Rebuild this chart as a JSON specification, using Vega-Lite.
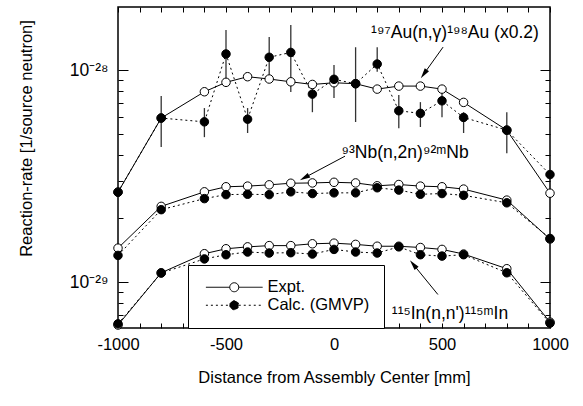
{
  "$schema": "https://vega.github.io/schema/vega-lite/v6.json",
  "width": 432,
  "height": 321,
  "autosize": "none",
  "padding": {"left": 118, "top": 7, "right": 33, "bottom": 78},
  "background": "white",
  "config": {
    "font": "Liberation Sans",
    "view": {"stroke": "black", "strokeWidth": 1.5},
    "axis": {"domain": false, "grid": false, "tickColor": "black", "labelColor": "black", "titleColor": "black", "titleFontWeight": "normal", "labelFont": "Liberation Sans", "titleFont": "Liberation Sans", "tickWidth": 1, "labelOverlap": false, "labelFlush": false, "labelBound": false}
  },
  "datasets": {
    "rates": [
      {"r": "Au", "x": -1000, "e": 2.66e-29, "c": 2.66e-29},
      {"r": "Au", "x": -800, "e": 5.94e-29, "c": 5.94e-29, "lo": 4.34e-29, "hi": 7.54e-29},
      {"r": "Au", "x": -600, "e": 7.9e-29, "c": 5.7e-29, "lo": 4.83e-29, "hi": 6.62e-29},
      {"r": "Au", "x": -500, "e": 8.75e-29, "c": 1.19e-28, "lo": 8.78e-29, "hi": 1.545e-28},
      {"r": "Au", "x": -400, "e": 9.3e-29, "c": 5.87e-29, "lo": 5.05e-29, "hi": 6.62e-29},
      {"r": "Au", "x": -300, "e": 9.07e-29, "c": 1.148e-28, "lo": 9.27e-29, "hi": 1.43e-28},
      {"r": "Au", "x": -200, "e": 8.8e-29, "c": 1.21e-28, "lo": 7.87e-29, "hi": 1.63e-28},
      {"r": "Au", "x": -100, "e": 8.55e-29, "c": 7.7e-29, "lo": 6.33e-29, "hi": 8.5e-29},
      {"r": "Au", "x": 0, "e": 8.71e-29, "c": 9.04e-29, "lo": 7.38e-29, "hi": 1.057e-28},
      {"r": "Au", "x": 100, "e": 8.62e-29, "c": 8.62e-29, "lo": 5.69e-29, "hi": 1.28e-28},
      {"r": "Au", "x": 200, "e": 8.13e-29, "c": 1.067e-28, "lo": 9.8e-29, "hi": 1.28e-28},
      {"r": "Au", "x": 300, "e": 8.4e-29, "c": 6.43e-29, "lo": 5.32e-29, "hi": 7.62e-29},
      {"r": "Au", "x": 400, "e": 8.4e-29, "c": 6.25e-29, "lo": 5.39e-29, "hi": 7.06e-29},
      {"r": "Au", "x": 500, "e": 8.13e-29, "c": 7.16e-29, "lo": 6.0e-29, "hi": 7.8e-29},
      {"r": "Au", "x": 600, "e": 7.04e-29, "c": 5.98e-29, "lo": 5.05e-29, "hi": 6.33e-29},
      {"r": "Au", "x": 800, "e": 5.21e-29, "c": 5.21e-29, "lo": 4.06e-29, "hi": 6.33e-29},
      {"r": "Au", "x": 1000, "e": 2.63e-29, "c": 3.22e-29},
      {"r": "Nb", "x": -1000, "e": 1.45e-29, "c": 1.34e-29},
      {"r": "Nb", "x": -800, "e": 2.28e-29, "c": 2.2e-29},
      {"r": "Nb", "x": -600, "e": 2.67e-29, "c": 2.48e-29},
      {"r": "Nb", "x": -500, "e": 2.82e-29, "c": 2.59e-29},
      {"r": "Nb", "x": -400, "e": 2.84e-29, "c": 2.6e-29},
      {"r": "Nb", "x": -300, "e": 2.88e-29, "c": 2.59e-29},
      {"r": "Nb", "x": -200, "e": 2.93e-29, "c": 2.67e-29},
      {"r": "Nb", "x": -100, "e": 2.94e-29, "c": 2.62e-29},
      {"r": "Nb", "x": 0, "e": 2.96e-29, "c": 2.64e-29},
      {"r": "Nb", "x": 100, "e": 2.94e-29, "c": 2.64e-29},
      {"r": "Nb", "x": 200, "e": 2.85e-29, "c": 2.79e-29},
      {"r": "Nb", "x": 300, "e": 2.89e-29, "c": 2.72e-29},
      {"r": "Nb", "x": 400, "e": 2.84e-29, "c": 2.6e-29},
      {"r": "Nb", "x": 500, "e": 2.82e-29, "c": 2.62e-29},
      {"r": "Nb", "x": 600, "e": 2.75e-29, "c": 2.57e-29},
      {"r": "Nb", "x": 800, "e": 2.44e-29, "c": 2.37e-29},
      {"r": "Nb", "x": 1000, "e": 1.6e-29, "c": 1.61e-29},
      {"r": "In", "x": -1000, "e": 6.3e-30, "c": 6.38e-30},
      {"r": "In", "x": -800, "e": 1.11e-29, "c": 1.107e-29},
      {"r": "In", "x": -600, "e": 1.365e-29, "c": 1.29e-29},
      {"r": "In", "x": -500, "e": 1.44e-29, "c": 1.35e-29},
      {"r": "In", "x": -400, "e": 1.47e-29, "c": 1.39e-29},
      {"r": "In", "x": -300, "e": 1.49e-29, "c": 1.375e-29},
      {"r": "In", "x": -200, "e": 1.49e-29, "c": 1.38e-29},
      {"r": "In", "x": -100, "e": 1.52e-29, "c": 1.36e-29},
      {"r": "In", "x": 0, "e": 1.53e-29, "c": 1.43e-29},
      {"r": "In", "x": 100, "e": 1.51e-29, "c": 1.39e-29},
      {"r": "In", "x": 200, "e": 1.48e-29, "c": 1.375e-29},
      {"r": "In", "x": 300, "e": 1.48e-29, "c": 1.47e-29},
      {"r": "In", "x": 400, "e": 1.46e-29, "c": 1.35e-29},
      {"r": "In", "x": 500, "e": 1.43e-29, "c": 1.33e-29},
      {"r": "In", "x": 600, "e": 1.36e-29, "c": 1.35e-29},
      {"r": "In", "x": 800, "e": 1.16e-29, "c": 1.11e-29},
      {"r": "In", "x": 1000, "e": 6.5e-30, "c": 6.43e-30}
    ],
    "notes": [
      {"k": "au", "x": 560, "y": 1.41e-28, "t": "¹⁹⁷Au(n,γ)¹⁹⁸Au (x0.2)", "ax": 505, "ay": 1.282e-28, "hx": 416, "hy": 9.58e-29},
      {"k": "nb", "x": 329, "y": 3.85e-29, "t": "⁹³Nb(n,2n)⁹²ᵐNb", "ax": 51, "ay": 3.93e-29, "hx": -137, "hy": 3.11e-29},
      {"k": "in", "x": 537, "y": 6.76e-30, "t": "¹¹⁵In(n,n')¹¹⁵ᵐIn", "ax": 481, "ay": 8.77e-30, "hx": 367, "hy": 1.216e-29}
    ]
  },
  "resolve": {"axis": {"x": "independent", "y": "independent"}},
  "layer": [
    {
      "data": {"name": "rates"},
      "mark": {"type": "line", "color": "black", "strokeWidth": 1},
      "encoding": {
        "x": {"field": "x", "type": "quantitative", "scale": {"domain": [-1000, 1000], "nice": false, "zero": false},
          "axis": {"orient": "bottom", "values": [-1000, -900, -800, -700, -600, -500, -400, -300, -200, -100, 0, 100, 200, 300, 400, 500, 600, 700, 800, 900, 1000],
            "labelExpr": "datum.value % 500 == 0 ? '' + datum.value : ''", "tickSize": -5, "labelPadding": 13, "labelFontSize": 16.5,
            "title": "Distance from Assembly Center [mm]", "titleFontSize": 16.5, "titlePadding": 17}},
        "y": {"field": "e", "type": "quantitative", "scale": {"type": "log", "domain": [6.1e-30, 1.98e-28], "nice": false},
          "axis": {"orient": "left", "values": [7e-30, 8e-30, 9e-30, 1e-29, 2e-29, 3e-29, 4e-29, 5e-29, 6e-29, 7e-29, 8e-29, 9e-29, 1e-28],
            "labelExpr": "datum.value == 1e-28 ? '10⁻²⁸' : datum.value == 1e-29 ? '10⁻²⁹' : ''",
            "tickSize": {"condition": {"test": "datum.value == 1e-28 || datum.value == 1e-29", "value": -10}, "value": -5},
            "labelPadding": 20, "labelFontSize": 17.5,
            "title": "Reaction-rate [1/source neutron]", "titleFontSize": 16.5, "titlePadding": 35, "titleY": 131}},
        "detail": {"field": "r"}
      }
    },
    {
      "data": {"name": "rates"},
      "mark": {"type": "line", "color": "black", "strokeWidth": 1, "strokeDash": [2, 3]},
      "encoding": {
        "x": {"field": "x", "type": "quantitative", "scale": {"domain": [-1000, 1000], "nice": false, "zero": false}, "axis": null},
        "y": {"field": "c", "type": "quantitative", "scale": {"type": "log", "domain": [6.1e-30, 1.98e-28], "nice": false}, "axis": null},
        "detail": {"field": "r"}
      }
    },
    {
      "data": {"name": "rates"},
      "transform": [{"filter": "isValid(datum.lo)"}],
      "mark": {"type": "rule", "color": "#333333", "strokeWidth": 1.3},
      "encoding": {
        "x": {"field": "x", "type": "quantitative", "scale": {"domain": [-1000, 1000], "nice": false, "zero": false}, "axis": null},
        "y": {"field": "lo", "type": "quantitative", "scale": {"type": "log", "domain": [6.1e-30, 1.98e-28], "nice": false}, "axis": null},
        "y2": {"field": "hi"}
      }
    },
    {
      "data": {"name": "rates"},
      "transform": [{"fold": ["e", "c"], "as": ["type", "y"]}],
      "mark": {"type": "point", "shape": "circle", "filled": true, "stroke": "black", "strokeWidth": 1, "size": 72, "opacity": 1},
      "encoding": {
        "x": {"field": "x", "type": "quantitative", "scale": {"domain": [-1000, 1000], "nice": false, "zero": false},
          "axis": {"orient": "top", "values": [-1000, -900, -800, -700, -600, -500, -400, -300, -200, -100, 0, 100, 200, 300, 400, 500, 600, 700, 800, 900, 1000], "labels": false, "tickSize": -5, "title": null}},
        "y": {"field": "y", "type": "quantitative", "scale": {"type": "log", "domain": [6.1e-30, 1.98e-28], "nice": false},
          "axis": {"orient": "right", "values": [7e-30, 8e-30, 9e-30, 1e-29, 2e-29, 3e-29, 4e-29, 5e-29, 6e-29, 7e-29, 8e-29, 9e-29, 1e-28], "labels": false,
            "tickSize": {"condition": {"test": "datum.value == 1e-28 || datum.value == 1e-29", "value": -10}, "value": -5}, "title": null}},
        "fill": {"field": "type", "type": "nominal", "scale": {"domain": ["e", "c"], "range": ["white", "black"]},
          "legend": {"orient": "none", "legendX": 70, "legendY": 258, "title": null,
            "labelExpr": "datum.value == 'e' ? 'Expt.' : 'Calc. (GMVP)'", "labelFontSize": 16.5, "labelFont": "Liberation Sans", "labelColor": "black",
            "symbolType": "M-6.3,0L-1,0M1,0L6.3,0M-1,0A1,1,0,1,0,1,0A1,1,0,1,0,-1,0", "symbolSize": 81,
            "symbolStrokeColor": "black", "symbolStrokeWidth": 1, "symbolOffset": 24, "labelOffset": 25,
            "symbolDash": {"expr": "datum.value == 'c' ? [2, 3] : [1, 0]"},
            "strokeColor": "black", "fillColor": "white", "padding": 14, "rowPadding": 1}}
      }
    },
    {
      "data": {"name": "notes"},
      "mark": {"type": "rule", "color": "black", "strokeWidth": 1},
      "encoding": {
        "x": {"field": "ax", "type": "quantitative", "scale": {"domain": [-1000, 1000], "nice": false, "zero": false}, "axis": null},
        "y": {"field": "ay", "type": "quantitative", "scale": {"type": "log", "domain": [6.1e-30, 1.98e-28], "nice": false}, "axis": null},
        "x2": {"field": "hx"},
        "y2": {"field": "hy"}
      }
    },
    {
      "data": {"name": "notes"},
      "transform": [{"filter": "datum.k == 'au'"}],
      "mark": {"type": "point", "shape": "M0,-1L0.5,1L-0.5,1Z", "filled": true, "color": "black", "size": 110, "angle": 215.4, "opacity": 1},
      "encoding": {
        "x": {"field": "hx", "type": "quantitative", "scale": {"domain": [-1000, 1000], "nice": false, "zero": false}, "axis": null},
        "y": {"field": "hy", "type": "quantitative", "scale": {"type": "log", "domain": [6.1e-30, 1.98e-28], "nice": false}, "axis": null}
      }
    },
    {
      "data": {"name": "notes"},
      "transform": [{"filter": "datum.k == 'nb'"}],
      "mark": {"type": "point", "shape": "M0,-1L0.5,1L-0.5,1Z", "filled": true, "color": "black", "size": 110, "angle": 240.9, "opacity": 1},
      "encoding": {
        "x": {"field": "hx", "type": "quantitative", "scale": {"domain": [-1000, 1000], "nice": false, "zero": false}, "axis": null},
        "y": {"field": "hy", "type": "quantitative", "scale": {"type": "log", "domain": [6.1e-30, 1.98e-28], "nice": false}, "axis": null}
      }
    },
    {
      "data": {"name": "notes"},
      "transform": [{"filter": "datum.k == 'in'"}],
      "mark": {"type": "point", "shape": "M0,-1L0.5,1L-0.5,1Z", "filled": true, "color": "black", "size": 110, "angle": 320.5, "opacity": 1},
      "encoding": {
        "x": {"field": "hx", "type": "quantitative", "scale": {"domain": [-1000, 1000], "nice": false, "zero": false}, "axis": null},
        "y": {"field": "hy", "type": "quantitative", "scale": {"type": "log", "domain": [6.1e-30, 1.98e-28], "nice": false}, "axis": null}
      }
    },
    {
      "data": {"name": "notes"},
      "mark": {"type": "text", "font": "Liberation Sans", "fontSize": 17.5, "align": "center", "baseline": "alphabetic", "color": "black"},
      "encoding": {
        "x": {"field": "x", "type": "quantitative", "scale": {"domain": [-1000, 1000], "nice": false, "zero": false}, "axis": null},
        "y": {"field": "y", "type": "quantitative", "scale": {"type": "log", "domain": [6.1e-30, 1.98e-28], "nice": false}, "axis": null},
        "text": {"field": "t"}
      }
    }
  ]
}
